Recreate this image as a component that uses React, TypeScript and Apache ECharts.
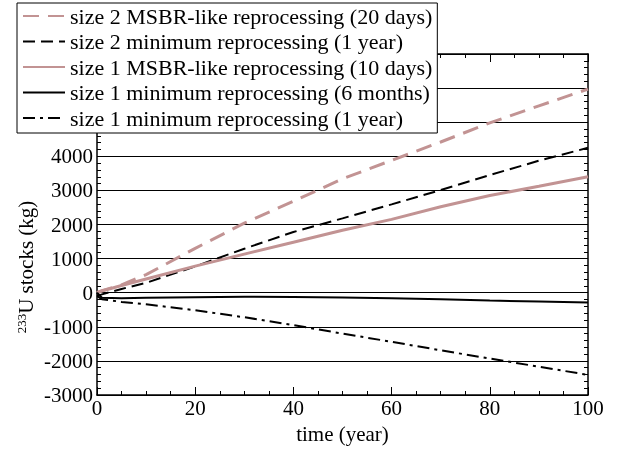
import React, { useEffect, useRef } from "react";
import * as echarts from "echarts";

const years = [0, 1, 5, 10, 20, 30, 40, 50, 60, 70, 80, 90, 100];
const size2Msbr = [0, 60, 230, 530, 1300, 2040, 2680, 3340, 3880, 4420, 4980, 5480, 5970];
const size2Min = [-100, -50, 110, 290, 770, 1290, 1780, 2180, 2590, 3010, 3450, 3870, 4250];
const size1Msbr = [0, 50, 210, 400, 780, 1130, 1480, 1830, 2150, 2520, 2850, 3120, 3400];
const size1Min6m = [0, -150, -165, -150, -130, -120, -125, -140, -165, -190, -230, -260, -290];
const size1Min1y = [-100, -190, -270, -340, -515, -720, -950, -1200, -1440, -1690, -1930, -2170, -2410];

const seriesNames = [
  "size 2 MSBR-like reprocessing (20 days)",
  "size 2 minimum reprocessing (1 year)",
  "size 1 MSBR-like reprocessing (10 days)",
  "size 1 minimum reprocessing (6 months)",
  "size 1 minimum reprocessing (1 year)",
];

const PINK = "#c29393";
const FONT = "'Liberation Serif', 'Times New Roman', serif";
const FS = 21;
const LEGEND_FS = 22;

function pairs(vals: number[]) {
  return years.map((x, i) => [x, vals[i]]);
}

export default function App() {
  const ref = useRef<HTMLDivElement>(null);
  useEffect(() => {
    const chart = echarts.init(ref.current!, undefined, { renderer: "svg" });
    const axisCommon = {
      type: "value" as const,
      axisLine: { show: true, onZero: false, lineStyle: { color: "#000", width: 1.5 } },
      axisTick: { show: true, inside: true, length: 8, lineStyle: { color: "#000", width: 1 } },
      minorTick: { show: true, length: 4, lineStyle: { color: "#000", width: 1 } },
    };
    const mkLine = (name: string, data: number[], color: string, width: number, type: any) => ({
      name,
      type: "line",
      data: pairs(data),
      showSymbol: false,
      symbol: "none",
      smooth: false,
      lineStyle: { color, width, type },
      itemStyle: { color },
      z: 3,
    });
    chart.setOption({
      animation: false,
      grid: { left: 97, right: 29, top: 54, bottom: 52 },
      xAxis: [
        {
          ...axisCommon,
          min: 0,
          max: 100,
          interval: 20,
          minorTick: { ...axisCommon.minorTick, splitNumber: 4 },
          position: "bottom",
          axisLabel: { color: "#000", fontFamily: FONT, fontSize: FS, margin: 2 },
          splitLine: { show: false },
          name: "time (year)",
          nameLocation: "middle",
          nameGap: 28,
          nameTextStyle: { color: "#000", fontFamily: FONT, fontSize: FS },
        },
        {
          ...axisCommon,
          min: 0,
          max: 100,
          interval: 20,
          minorTick: { ...axisCommon.minorTick, splitNumber: 4 },
          position: "top",
          axisLabel: { show: false },
          splitLine: { show: false },
        },
      ],
      yAxis: [
        {
          ...axisCommon,
          min: -3000,
          max: 7000,
          interval: 1000,
          minorTick: { ...axisCommon.minorTick, splitNumber: 5 },
          position: "left",
          axisLabel: {
            color: "#000",
            fontFamily: FONT,
            fontSize: FS,
            margin: 4,
            formatter: (v: number) => (v > 4000 ? "" : String(v)),
          },
          splitLine: { show: true, lineStyle: { color: "#000", width: 1 } },
        },
        {
          ...axisCommon,
          min: -3000,
          max: 7000,
          interval: 1000,
          minorTick: { ...axisCommon.minorTick, splitNumber: 5 },
          position: "right",
          axisLabel: { show: false },
          splitLine: { show: false },
        },
      ],
      legend: {
        orient: "vertical",
        left: 17,
        top: 3,
        padding: [1, 5, 3, 5],
        backgroundColor: "#fff",
        borderColor: "#000",
        borderWidth: 1,
        borderRadius: 0,
        itemWidth: 42,
        itemHeight: 14,
        itemGap: 1.5,
        itemStyle: { opacity: 0, borderWidth: 0 },
        textStyle: { color: "#000", fontFamily: FONT, fontSize: LEGEND_FS, lineHeight: 24 },
        data: seriesNames,
        z: 10,
      },
      graphic: [
        {
          type: "text",
          x: 26,
          y: 267,
          rotation: Math.PI / 2,
          style: {
            text: "{sup|233}{main|U stocks (kg)}",
            align: "center",
            verticalAlign: "middle",
            fill: "#000",
            rich: {
              sup: { fontFamily: FONT, fontSize: 13, verticalAlign: "top", lineHeight: 22, fill: "#000" },
              main: { fontFamily: FONT, fontSize: FS, lineHeight: 22, fill: "#000" },
            },
          },
        },
      ],
      series: [
        mkLine(seriesNames[0], size2Msbr, PINK, 3, [16, 9]),
        mkLine(seriesNames[1], size2Min, "#000", 2, [12, 6]),
        mkLine(seriesNames[2], size1Msbr, PINK, 3, "solid"),
        mkLine(seriesNames[3], size1Min6m, "#000", 2, "solid"),
        mkLine(seriesNames[4], size1Min1y, "#000", 2, [12, 5, 3, 5]),
      ],
    });
    return () => chart.dispose();
  }, []);
  return (
    <div
      ref={ref}
      style={{ position: "fixed", left: 0, top: 0, width: 617, height: 449 }}
    />
  );
}
